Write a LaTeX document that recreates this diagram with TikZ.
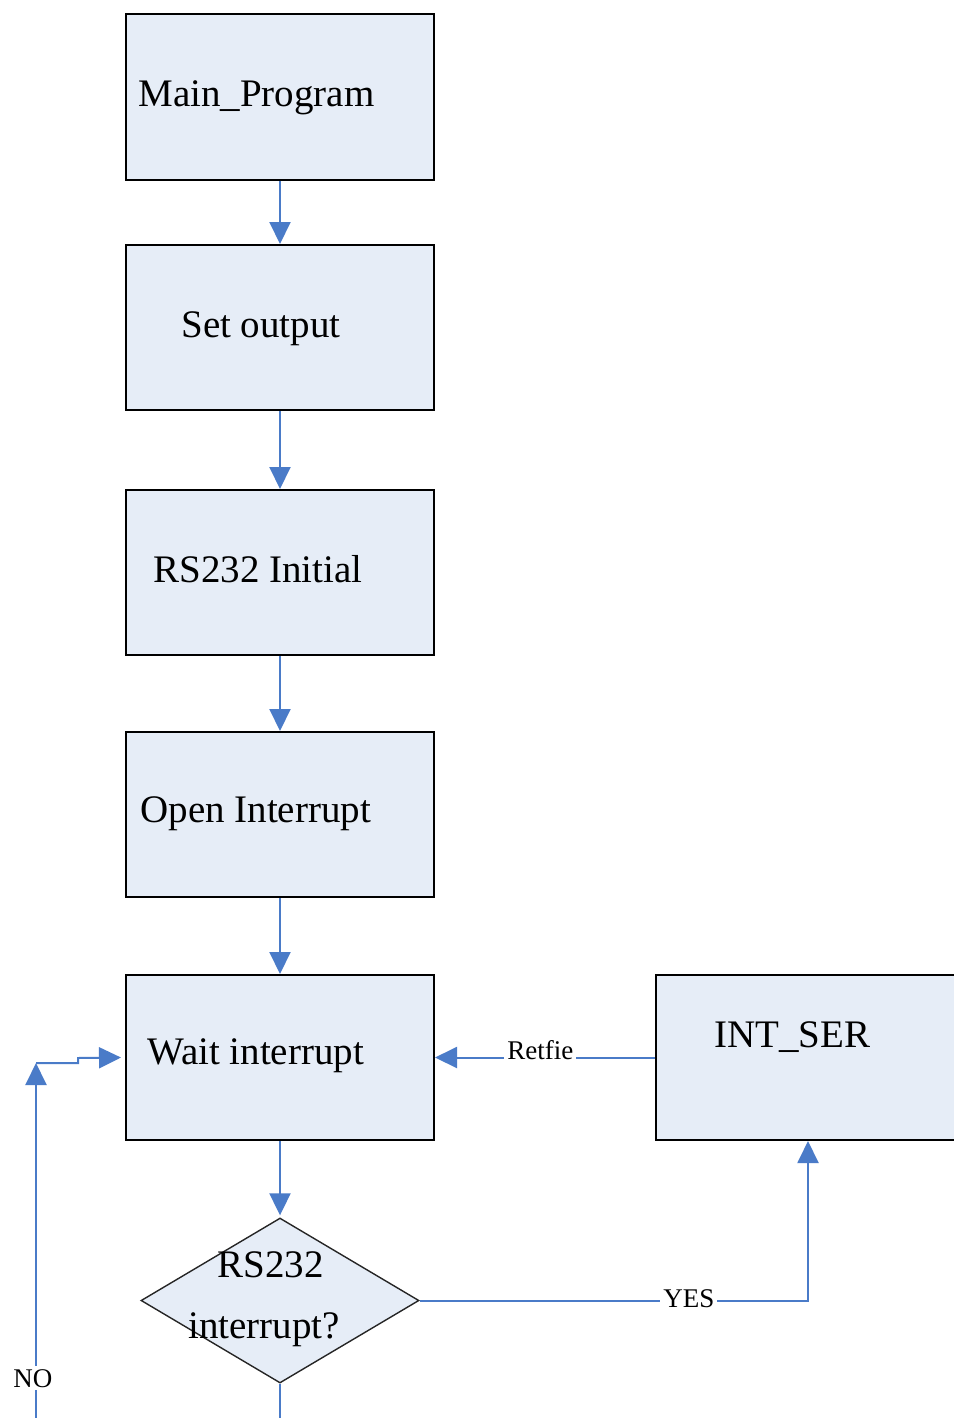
\documentclass[tikz,border=0pt]{standalone}
\usepackage{fontspec}
\setmainfont{Liberation Serif}
\usetikzlibrary{shapes.geometric,arrows.meta}
\definecolor{boxfill}{HTML}{E6EDF7}
\definecolor{connc}{HTML}{4A7BC8}
\begin{document}
\begin{tikzpicture}[x=0.5pt,y=-0.5pt,
 box/.style={draw=black,line width=1pt,fill=boxfill,minimum width=154pt,minimum height=82.5pt,inner sep=0pt},
 dec/.style={diamond,draw=black!85,line width=0.7pt,fill=boxfill,minimum width=139pt,minimum height=82.5pt,inner sep=0pt},
 txt/.style={font=\fontsize{19.5}{23}\selectfont,inner sep=0pt,anchor=base west},
 lbl/.style={font=\fontsize{13.5}{16}\selectfont,fill=white,inner sep=1.5pt,anchor=base west},
 arr/.style={draw=connc,line width=1pt,-{Triangle[width=10.5pt,length=11pt]}},
 plainc/.style={draw=connc,line width=1pt}]
\useasboundingbox (0,0) rectangle (953,1418);
% boxes
\node[box] (main) at (280,97) {};
\node[box] (set) at (280,327.5) {};
\node[box] (rs) at (280,572.5) {};
\node[box] (open) at (280,814.5) {};
\node[box] (wait) at (280,1057.5) {};
\node[box,minimum width=156pt] (int) at (812,1057.5) {};
\node[dec] (dec) at (280,1300.5) {};
% texts
\node[txt] (tmain) at (138,107) {Main\_Program};
\node[txt] (tset) at (181,337) {Set output};
\node[txt] (trs) at (153,582) {RS232 Initial};
\node[txt] (topen) at (140,822) {Open Interrupt};
\node[txt] (twait) at (147,1064) {Wait interrupt};
\node[txt] (tint) at (714,1047) {INT\_SER};
\node[txt] (tdec1) at (217,1277) {RS232};
\node[txt] (tdec2) at (188,1338) {interrupt?};
% coordinates for free ends
\coordinate (decend) at (280,1430);
\coordinate (nostart) at (36,1430);
\coordinate (notop) at (36,1063);
% connectors
\draw[arr] (main.south) -- (set.north);
\draw[arr] (set.south) -- (rs.north);
\draw[arr] (rs.south) -- (open.north);
\draw[arr] (open.south) -- (wait.north);
\draw[arr] (wait.south) -- ([yshift=1pt]dec.north);
\draw[plainc] (dec.south) -- (decend);
\draw[arr] (int.west) -- (wait.east);
\draw[arr] (dec.east) -| ([xshift=-2pt]int.south);
\draw[arr] (nostart) -- (notop);
\draw[arr] (notop) -- (78,1063) -- (78,1058) -- ([xshift=-2pt]wait.west);
% labels
\node[lbl] (lretfie) at (504,1059) {Retfie};
\node[lbl] (lyes) at (660,1307) {YES};
\node[lbl] (lno) at (10,1387) {NO};
\end{tikzpicture}
\end{document}
